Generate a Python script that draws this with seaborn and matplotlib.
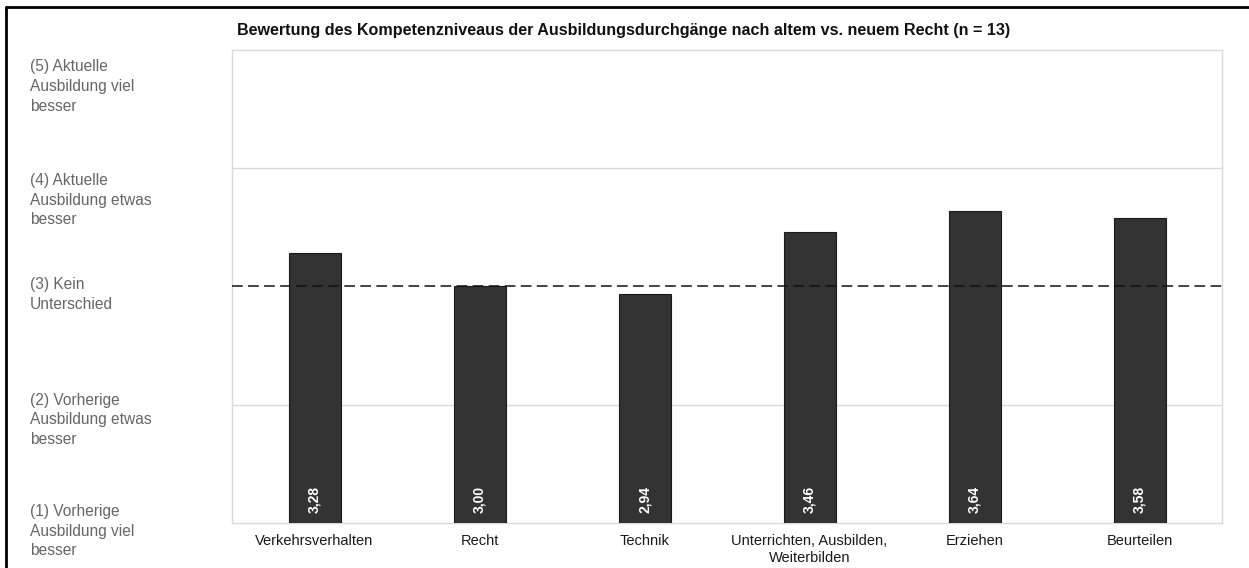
import matplotlib
matplotlib.use("Agg")
import matplotlib.pyplot as plt
from matplotlib.lines import Line2D
from matplotlib.transforms import blended_transform_factory
import seaborn as sns
import pandas as pd

categories = ["Verkehrsverhalten", "Recht", "Technik",
              "Unterrichten, Ausbilden,\nWeiterbilden", "Erziehen", "Beurteilen"]
values = [3.28, 3.00, 2.94, 3.46, 3.64, 3.58]
value_labels = ["3,28", "3,00", "2,94", "3,46", "3,64", "3,58"]
scale_ticks = [1, 2, 3, 4, 5]
scale_labels = [
    "(1) Vorherige\nAusbildung viel\nbesser",
    "(2) Vorherige\nAusbildung etwas\nbesser",
    "(3) Kein\nUnterschied",
    "(4) Aktuelle\nAusbildung etwas\nbesser",
    "(5) Aktuelle\nAusbildung viel\nbesser",
]
title = "Bewertung des Kompetenzniveaus der Ausbildungsdurchgänge nach altem vs. neuem Recht (n = 13)"

sns.set_theme(style="white")
plt.rcParams["font.family"] = ["Liberation Sans", "DejaVu Sans"]

df = pd.DataFrame({"Bereich": categories, "Wert": values})

fig = plt.figure(figsize=(12.49, 5.68), dpi=100)
ax = fig.add_axes([0.1858, 0.0792, 0.7926, 0.8328])

sns.barplot(data=df, x="Bereich", y="Wert", ax=ax, color="#333333",
            saturation=1, width=0.315, edgecolor="#1a1a1a",
            linewidth=0.8, zorder=3)
ax.set_ylim(1, 5)
ax.set_xlim(-0.5, len(categories) - 0.5)

# Light horizontal grid and frame
for y in (2, 4):
    ax.axhline(y, color="#d9d9d9", lw=1, zorder=1)
for sp in ax.spines.values():
    sp.set_visible(True)
    sp.set_color("#d9d9d9")
    sp.set_linewidth(1)

# Reference line at "no difference"
ax.axhline(3, color="#111111", lw=1.1, ls=(0, (7, 3.5)), zorder=4)

# Value labels inside the bars, near the bottom
for i, lab in enumerate(value_labels):
    ax.text(i, 1.085, lab, rotation=90, ha="center", va="bottom", color="white",
            fontsize=10, fontweight="bold", zorder=5)

ax.set_xlabel("")
ax.set_ylabel("")
ax.tick_params(axis="x", length=0, pad=8, labelsize=10.5, labelcolor="#1a1a1a")
for t in ax.get_xticklabels():
    t.set_linespacing(1.3)
ax.set_yticks(scale_ticks)
ax.set_yticklabels([])
ax.tick_params(axis="y", length=0)

# Scale descriptions on the left, top-aligned near each level
label_tops = [1.16, 2.10, 3.08, 3.96, 4.92]
trans = blended_transform_factory(fig.transFigure, ax.transData)
for yt, lab in zip(label_tops, scale_labels):
    ax.text(0.0240, yt, lab, transform=trans, ha="left", va="top",
            fontsize=11.2, color="#666666", linespacing=1.38)

fig.text(0.1898, 0.946, title, ha="left", va="center", fontsize=11.6,
         fontweight="bold", color="#111111")

# Outer frame (left and top edges)
fig.add_artist(Line2D([0.005, 0.005], [0, 0.988], transform=fig.transFigure,
                      color="black", lw=2))
fig.add_artist(Line2D([0.005, 1], [0.988, 0.988], transform=fig.transFigure,
                      color="black", lw=2))

fig.savefig("out.png", dpi=100, facecolor="white")
